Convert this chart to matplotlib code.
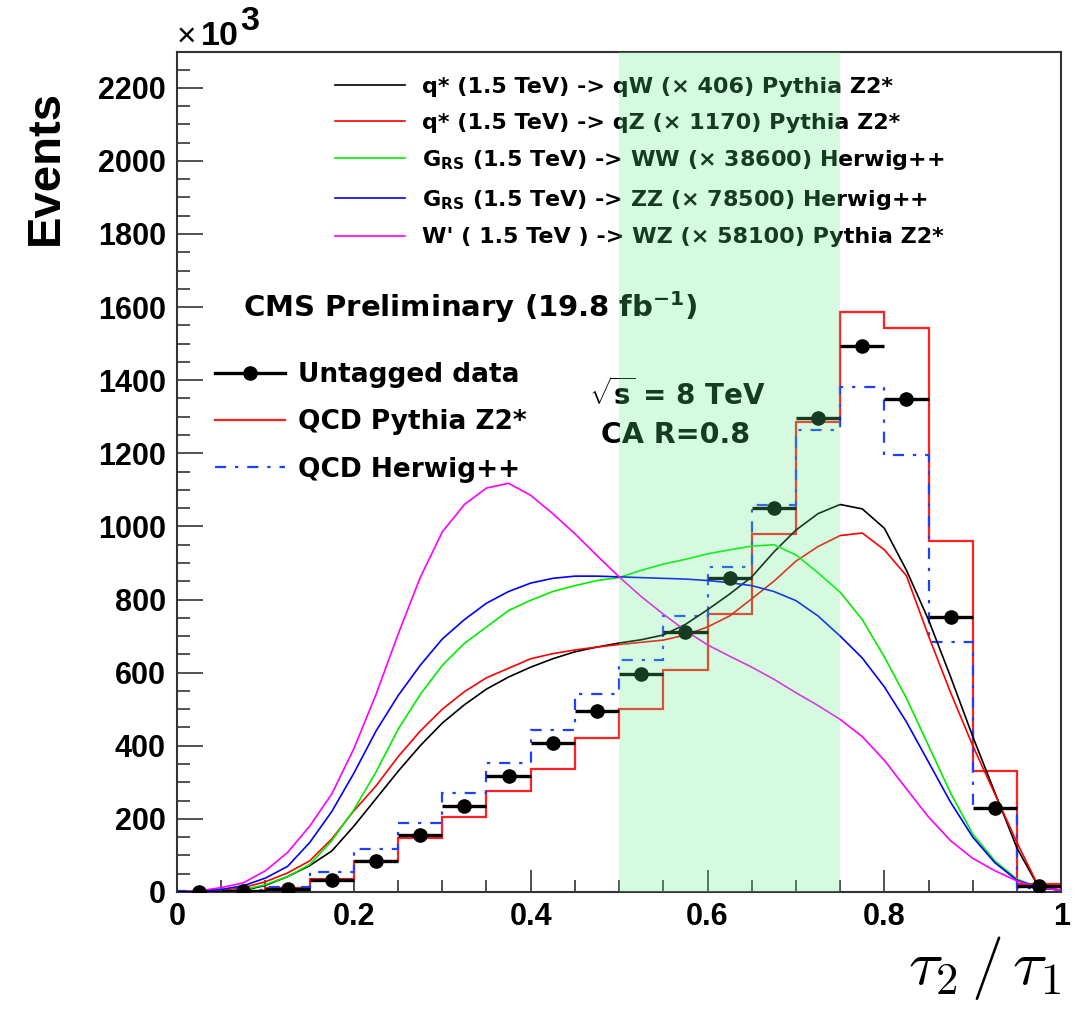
import numpy as np
import matplotlib
matplotlib.use('Agg')
import matplotlib.pyplot as plt
from matplotlib import font_manager
from matplotlib.lines import Line2D
from matplotlib.ticker import MultipleLocator

# bold sans for the math bits (subscripts, sqrt, superscripts)
plt.rcParams['mathtext.fontset'] = 'custom'
plt.rcParams['mathtext.rm'] = 'DejaVu Sans:bold'
plt.rcParams['mathtext.it'] = 'DejaVu Sans:bold'
plt.rcParams['mathtext.bf'] = 'DejaVu Sans:bold'

# ---- data (events, x10^3) ----
bin_edges = np.linspace(0, 1, 21)
bin_centers = 0.5 * (bin_edges[:-1] + bin_edges[1:])

data_vals = [1, 2, 8, 33, 85, 156, 235, 318, 407, 495,
             596, 711, 859, 1050, 1297, 1494, 1349, 752, 230, 16]
pythia_vals = [0, 1, 10, 35, 85, 147, 205, 276, 337, 421,
               500, 607, 761, 980, 1286, 1587, 1543, 960, 331, 22]
herwig_vals = [2, 4, 14, 55, 117, 190, 272, 353, 443, 542,
               635, 755, 889, 1059, 1264, 1382, 1196, 684, 230, 10]

# signal shapes, read on a 0.025 grid
sig_x = [0.0, 0.025, 0.05, 0.075, 0.1, 0.125, 0.15, 0.175, 0.2, 0.225,
         0.25, 0.275, 0.3, 0.325, 0.35, 0.375, 0.4, 0.425, 0.45, 0.475,
         0.5, 0.525, 0.55, 0.575, 0.6, 0.625, 0.65, 0.675, 0.7, 0.725,
         0.75, 0.775, 0.8, 0.825, 0.85, 0.875, 0.9, 0.925, 0.95, 0.975, 1.0]
qw_vals = [0, 0, 1, 4, 18, 42, 72, 112, 180, 255,
           330, 400, 462, 512, 555, 588, 615, 638, 657, 670,
           681, 690, 703, 732, 772, 815, 862, 930, 990, 1035,
           1060, 1048, 995, 880, 744, 588, 425, 272, 120, 11, 5]
qz_vals = [0, 0, 3, 12, 28, 52, 85, 145, 222, 290,
           370, 440, 500, 548, 586, 612, 638, 652, 662, 670,
           677, 683, 689, 703, 725, 755, 802, 850, 905, 945,
           975, 982, 936, 865, 700, 545, 400, 268, 135, 12, 5]
ww_vals = [0, 0, 2, 6, 20, 42, 75, 140, 225, 328,
           445, 540, 620, 680, 725, 770, 798, 822, 838, 852,
           860, 880, 897, 910, 925, 936, 946, 950, 922, 873,
           820, 745, 643, 530, 400, 270, 158, 85, 35, 12, 5]
zz_vals = [0, 2, 7, 17, 38, 70, 135, 220, 325, 440,
           537, 620, 692, 745, 790, 822, 845, 858, 864, 864,
           862, 860, 858, 856, 852, 846, 838, 822, 797, 755,
           700, 640, 561, 465, 355, 245, 150, 80, 32, 12, 5]
wz_vals = [0, 3, 12, 25, 58, 108, 180, 268, 392, 540,
           705, 860, 985, 1060, 1105, 1118, 1085, 1035, 980, 920,
           862, 808, 760, 715, 676, 645, 615, 582, 545, 510,
           472, 425, 360, 282, 205, 140, 92, 58, 30, 12, 5]

signal_labels = [
    'q* (1.5 TeV) -> qW (\u00d7 406) Pythia Z2*',
    'q* (1.5 TeV) -> qZ (\u00d7 1170) Pythia Z2*',
    'G$_{\\mathrm{RS}}$ (1.5 TeV) -> WW (\u00d7 38600) Herwig++',
    'G$_{\\mathrm{RS}}$ (1.5 TeV) -> ZZ (\u00d7 78500) Herwig++',
    "W' ( 1.5 TeV ) -> WZ (\u00d7 58100) Pythia Z2*",
]
signal_colors = ['black', 'red', '#00ee00', '#0000ff', '#ff00ff']
signal_vals = [qw_vals, qz_vals, ww_vals, zz_vals, wz_vals]

# narrow font for the tall y title if available
try:
    font_manager.findfont('Liberation Sans Narrow:bold', fallback_to_default=False)
    ytitle_font, ytitle_size = 'Liberation Sans Narrow', 42
except Exception:
    ytitle_font, ytitle_size = 'Liberation Sans', 34

fig = plt.figure(figsize=(10.73, 10.09), dpi=100)
ax = fig.add_axes([0.165, 0.116, 0.824, 0.8325])

# QCD histograms
ax.stairs(pythia_vals, bin_edges, color='#ff2020', lw=1.6, baseline=0, zorder=2)
ax.stairs(herwig_vals, bin_edges, color='#2040ff', lw=1.6, baseline=0,
          linestyle=(0, (5, 4, 1.5, 4)), zorder=2)

# signal curves
for vals, c in zip(signal_vals, signal_colors):
    ax.plot(sig_x, vals, color=c, lw=1.2, zorder=3)

# data points
ax.errorbar(bin_centers, data_vals, xerr=0.025, fmt='o', color='black',
            ms=9.5, elinewidth=2.4, capsize=0, zorder=4)

# tagging window
ax.axvspan(0.5, 0.75, color='#5bef83', alpha=0.25, lw=0, zorder=10)

ax.set_xlim(0, 1)
ax.set_ylim(0, 2298)

# legends
sig_handles = [Line2D([], [], color=c, lw=1.2) for c in signal_colors]
leg1 = ax.legend(sig_handles, signal_labels, loc='upper left',
                 bbox_to_anchor=(0.179, 0.970), frameon=False, borderpad=0,
                 borderaxespad=0, handlelength=3.15, handletextpad=0.75,
                 labelspacing=0.7, prop={'family': 'DejaVu Sans', 'weight': 'bold', 'size': 16})
ax.add_artist(leg1)

bkg_handles = [Line2D([], [], color='black', lw=2.4, marker='o', ms=9.5),
               Line2D([], [], color='#ff2020', lw=1.6),
               Line2D([], [], color='#2040ff', lw=1.6, linestyle=(0, (5, 4, 1.5, 4)))]
bkg_labels = ['Untagged data', 'QCD Pythia Z2*', 'QCD Herwig++']
ax.legend(bkg_handles, bkg_labels, loc='upper left', bbox_to_anchor=(0.043, 0.631),
          frameon=False, borderpad=0, borderaxespad=0, handlelength=2.65,
          handletextpad=0.5, labelspacing=0.81,
          prop={'family': 'DejaVu Sans', 'weight': 'bold', 'size': 19})

# labels in the pad
ax.text(0.0747, 0.696, 'CMS Preliminary (19.8 fb$^{-1}$)', transform=ax.transAxes,
        fontsize=21, fontweight='bold', family='DejaVu Sans', va='center', ha='left')
ax.text(0.466, 0.592, '$\\sqrt{s}$ = 8 TeV', transform=ax.transAxes,
        fontsize=20, fontweight='bold', family='DejaVu Sans', va='center', ha='left')
ax.text(0.479, 0.544, 'CA R=0.8', transform=ax.transAxes,
        fontsize=20.5, fontweight='bold', family='DejaVu Sans', va='center', ha='left')

# x10^3 multiplier
ax.text(0.0, 1.008, '\u00d7', transform=ax.transAxes, fontsize=24,
        family='Liberation Sans', va='baseline', ha='left')
ax.text(0.027, 1.008, '10', transform=ax.transAxes, fontsize=24.5,
        family='Liberation Sans', fontweight='bold', va='baseline', ha='left')
ax.text(0.071, 1.026, '3', transform=ax.transAxes, fontsize=24.5,
        family='Liberation Sans', fontweight='bold', va='baseline', ha='left')

# axes styling
ax.set_xticks([0, 0.2, 0.4, 0.6, 0.8, 1.0])
ax.set_xticklabels(['0', '0.2', '0.4', '0.6', '0.8', '1'])
ax.xaxis.set_minor_locator(MultipleLocator(0.05))
ax.set_yticks(np.arange(0, 2201, 200))
ax.yaxis.set_minor_locator(MultipleLocator(50))
ax.tick_params(which='both', direction='in', top=False, right=False, width=1.1, color='#222222')
ax.tick_params(axis='x', which='major', length=16, pad=7)
ax.tick_params(axis='x', which='minor', length=8.5)
ax.tick_params(axis='y', which='major', length=19, pad=8)
ax.tick_params(axis='y', which='minor', length=9.5)
for lab in ax.get_xticklabels() + ax.get_yticklabels():
    lab.set_fontfamily('Liberation Sans')
    lab.set_fontweight('bold')
    lab.set_fontsize(22)
for sp in ax.spines.values():
    sp.set_linewidth(1.5)
    sp.set_color('#333333')

ax.set_ylabel('Events', loc='top', fontsize=ytitle_size, fontweight='bold',
              family=ytitle_font)
ax.yaxis.set_label_coords(-0.123, 0.955)
ax.set_xlabel('$\\tau_2\\,/\\,\\tau_1$', loc='right', fontsize=46,
              math_fontfamily='cm', labelpad=2)

fig.savefig('out.png', dpi=100)
